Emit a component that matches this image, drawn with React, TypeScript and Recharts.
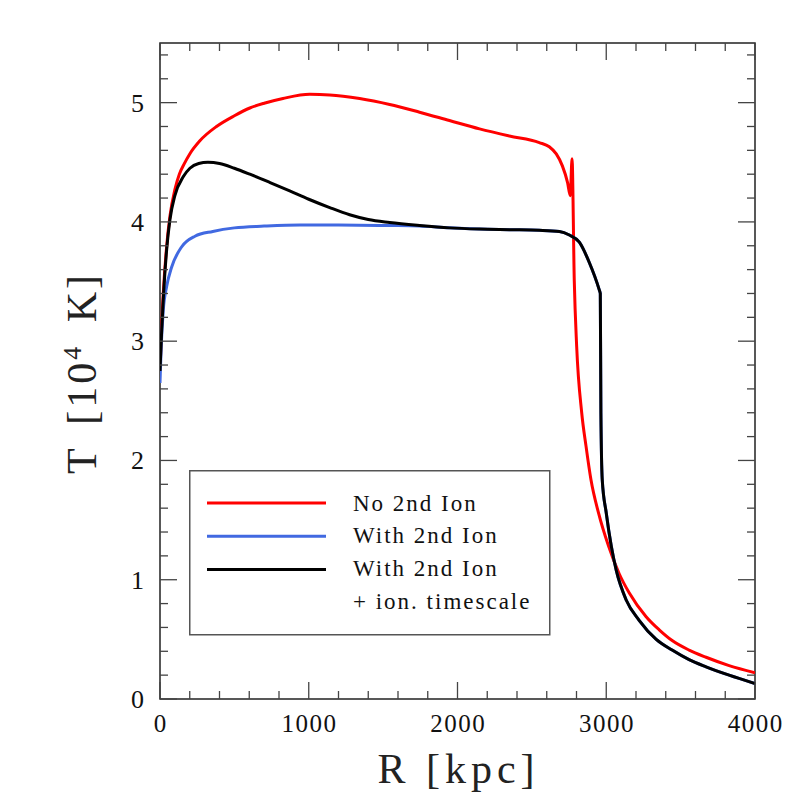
import React from 'react';
import { LineChart, Line, XAxis, YAxis, ReferenceArea, Legend } from 'recharts';

// ---- data (R in kpc, T in 10^4 K) ----
const rRed = [0, 10, 22, 45, 67, 100, 130, 160, 200, 268, 380, 500, 604, 700, 827, 1007, 1141, 1342, 1544, 1745, 1946, 2148, 2349, 2550, 2617, 2664, 2705, 2740, 2758, 2770, 2785, 2801, 2835, 2864, 2897, 2948, 3016, 3087, 3154, 3268, 3356, 3443, 3557, 3671, 3826, 4000];
const tRed = [2.75, 3.1, 3.4, 3.8, 4.05, 4.27, 4.4, 4.48, 4.57, 4.68, 4.8, 4.89, 4.955, 4.995, 5.035, 5.07, 5.065, 5.035, 4.985, 4.92, 4.85, 4.78, 4.72, 4.665, 4.63, 4.57, 4.47, 4.33, 4.22, 4.53, 3.51, 2.96, 2.4, 2.12, 1.84, 1.56, 1.28, 1.05, 0.89, 0.69, 0.58, 0.49, 0.41, 0.35, 0.28, 0.22];

const rBlue = [0, 8, 22, 45, 78, 145, 235, 355, 500, 700, 940, 1200, 1544, 1745, 1946, 2148, 2349, 2550, 2685, 2752, 2819, 2886, 2953, 2960, 2964, 2973, 3000, 3034, 3067, 3134, 3221, 3336, 3443, 3557, 3671, 3826, 4000];
const tBlue = [2.65, 2.95, 3.26, 3.46, 3.62, 3.79, 3.88, 3.92, 3.95, 3.965, 3.975, 3.975, 3.97, 3.965, 3.95, 3.94, 3.935, 3.93, 3.92, 3.89, 3.83, 3.66, 3.43, 3.4, 2.4, 1.84, 1.56, 1.28, 1.08, 0.83, 0.66, 0.5, 0.41, 0.33, 0.27, 0.2, 0.13];

const rBlack = [0, 10, 22, 45, 67, 100, 157, 201, 260, 322, 400, 500, 604, 740, 872, 1000, 1141, 1275, 1400, 1544, 1745, 1946, 2148, 2349, 2550, 2685, 2752, 2819, 2886, 2953, 2960, 2964, 2973, 3000, 3034, 3067, 3134, 3221, 3336, 3443, 3557, 3671, 3826, 4000];
const tBlack = [2.75, 3.05, 3.35, 3.77, 4.02, 4.22, 4.38, 4.45, 4.49, 4.5, 4.49, 4.45, 4.4, 4.33, 4.26, 4.19, 4.12, 4.06, 4.02, 3.995, 3.97, 3.95, 3.94, 3.935, 3.93, 3.92, 3.89, 3.83, 3.66, 3.43, 3.4, 2.4, 1.84, 1.56, 1.28, 1.08, 0.83, 0.66, 0.5, 0.41, 0.33, 0.27, 0.2, 0.13];

const xTicks = [0, 200, 400, 600, 800, 1000, 1200, 1400, 1600, 1800, 2000, 2200, 2400, 2600, 2800, 3000, 3200, 3400, 3600, 3800, 4000];
const yTicks = [0, 0.2, 0.4, 0.6, 0.8, 1, 1.2, 1.4, 1.6, 1.8, 2, 2.2, 2.4, 2.6, 2.8, 3, 3.2, 3.4, 3.6, 3.8, 4, 4.2, 4.4, 4.6, 4.8, 5, 5.2, 5.4];

const seriesNames = ['No 2nd Ion', 'With 2nd Ion', 'With 2nd Ion'];
const extraLegendLine = '+ ion. timescale';
const xTitle = 'R [kpc]';

const toData = (rs: number[], ts: number[]) => rs.map((r, i) => ({ R: r, T: ts[i] }));
const redData = toData(rRed, tRed);
const blueData = toData(rBlue, tBlue);
const blackData = toData(rBlack, tBlack);

// ---- layout ----
const W = 797;
const H = 797;
const PL = 160;
const PR = 755;
const PT = 43;
const PB = 699;
const FONT = '"Liberation Serif", "DejaVu Serif", serif';
const TICK_COLOR = '#444';

const isMajor = (v: number, step: number) => Math.abs(v / step - Math.round(v / step)) < 1e-6;

const XTick = (props: any) => {
  const { x, payload } = props;
  const v = payload.value;
  const major = isMajor(v, 1000);
  const len = major ? 17 : 8;
  return (
    <g>
      <line x1={x} x2={x} y1={PB} y2={PB - len} stroke={TICK_COLOR} strokeWidth={1.3} />
      <line x1={x} x2={x} y1={PT} y2={PT + len} stroke={TICK_COLOR} strokeWidth={1.3} />
      {major && (
        <text x={x + 0.75} y={PB + 33} textAnchor="middle" fontFamily={FONT} fontSize={25} letterSpacing={1.5} fill="#111">
          {v}
        </text>
      )}
    </g>
  );
};

const YTick = (props: any) => {
  const { y, payload } = props;
  const v = payload.value;
  const major = isMajor(v, 1);
  const len = major ? 17 : 8;
  return (
    <g>
      <line x1={PL} x2={PL + len} y1={y} y2={y} stroke={TICK_COLOR} strokeWidth={1.3} />
      <line x1={PR} x2={PR - len} y1={y} y2={y} stroke={TICK_COLOR} strokeWidth={1.3} />
      {major && (
        <text x={144} y={y + 9} textAnchor="end" fontFamily={FONT} fontSize={26} fill="#111">
          {Math.round(v)}
        </text>
      )}
    </g>
  );
};

const XTitle = () => (
  <text x={458.5} y={783} textAnchor="middle" fontFamily={FONT} fontSize={42} fill="#222" letterSpacing={5}>
    {xTitle}
  </text>
);

const YTitle = () => (
  <text
    x={0}
    y={0}
    transform="translate(96,373) rotate(-90)"
    textAnchor="middle"
    fontFamily={FONT}
    fontSize={42}
    fill="#222"
    letterSpacing={3}
    wordSpacing={8}
  >
    <tspan>T [10</tspan>
    <tspan dy={-15} fontSize={26}>4</tspan>
    <tspan dy={15}> K]</tspan>
  </text>
);

const legendItems = [
  { name: seriesNames[0], color: '#ff0000' },
  { name: seriesNames[1], color: '#4169e1' },
  { name: seriesNames[2], color: '#000000' },
];

const LegendBox = () => (
  <svg width={362} height={166} style={{ display: 'block' }}>
    <rect x={0.75} y={0.75} width={360} height={164} fill="#fff" stroke="#555" strokeWidth={1.5} />
    {legendItems.map((it, i) => (
      <g key={i}>
        <line x1={18} x2={137} y1={33 + i * 33.2} y2={33 + i * 33.2} stroke={it.color} strokeWidth={3} />
        <text x={164} y={40.5 + i * 32.7} fontFamily={FONT} fontSize={23} letterSpacing={2} fill="#111">
          {it.name}
        </text>
      </g>
    ))}
    <text x={164} y={40.5 + 3 * 32.7} fontFamily={FONT} fontSize={23} letterSpacing={2} fill="#111">
      {extraLegendLine}
    </text>
  </svg>
);

export default function App() {
  return (
    <div style={{ position: 'absolute', left: 0, top: 0, width: W, height: H, background: '#fff' }}>
      <LineChart
        width={W}
        height={H}
        margin={{ left: PL - 60, right: W - PR, top: PT, bottom: H - PB - 40 }}
      >
        <XAxis
          dataKey="R"
          type="number"
          domain={[0, 4000]}
          ticks={xTicks}
          interval={0}
          allowDataOverflow
          tickLine={false}
          axisLine={false}
          height={40}
          tick={<XTick />}
          label={{ content: () => <XTitle /> }}
        />
        <YAxis
          dataKey="T"
          type="number"
          domain={[0, 5.5]}
          ticks={yTicks}
          interval={0}
          allowDataOverflow
          tickLine={false}
          axisLine={false}
          width={60}
          tick={<YTick />}
          label={{ content: () => <YTitle /> }}
        />
        <ReferenceArea x1={0} x2={4000} y1={0} y2={5.5} fill="none" stroke="#222" strokeWidth={1.5} ifOverflow="visible" />
        <Line data={redData} dataKey="T" name={seriesNames[0]} stroke="#ff0000" strokeWidth={3} dot={false} type="monotone" isAnimationActive={false} />
        <Line data={blueData} dataKey="T" name={seriesNames[1]} stroke="#4169e1" strokeWidth={3} dot={false} type="monotone" isAnimationActive={false} />
        <Line data={blackData} dataKey="T" name={seriesNames[2]} stroke="#000000" strokeWidth={3} dot={false} type="monotone" isAnimationActive={false} />
        <Legend
          layout="horizontal"
          verticalAlign="middle"
          align="center"
          content={() => <LegendBox />}
          wrapperStyle={{ left: 189, top: 470, width: 362, height: 166 }}
        />
      </LineChart>
    </div>
  );
}
